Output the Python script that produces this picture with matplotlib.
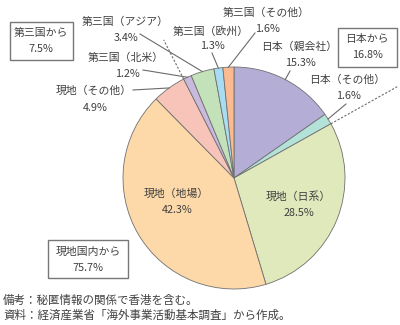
import numpy as np
import matplotlib
matplotlib.use('Agg')
import matplotlib.pyplot as plt

plt.rcParams['font.family'] = ['Noto Sans CJK JP', 'DejaVu Sans']

# 調達先別の内訳（%）、12時の位置から時計回り
labels = ['日本（親会社）', '日本（その他）', '現地（日系）', '現地（地場）', '現地（その他）',
          '第三国（北米）', '第三国（アジア）', '第三国（欧州）', '第三国（その他）']
shares = [15.3, 1.6, 28.5, 42.3, 4.9, 1.2, 3.4, 1.3, 1.6]
colors = ['#b4add6', '#b3e2d8', '#dfe9bc', '#fdd9a9', '#f8c4b9',
          '#c9badd', '#c3e2b9', '#a8dcf2', '#fbba8f']

group_names = ['日本から', '現地国内から', '第三国から']
group_shares = [16.8, 75.7, 7.5]

W, H = 400, 325
cx, cy, R = 234, H - 178, 111
text_c = '#404040'
line_c = '#6b6b6b'
fs = 7.8

fig = plt.figure(figsize=(W / 100, H / 100), dpi=100)
ax = fig.add_axes([0, 0, 1, 1])
ax.pie(shares, colors=colors, startangle=90, counterclock=False,
       center=(cx, cy), radius=R,
       wedgeprops=dict(edgecolor='#707070', linewidth=0.6))
ax.set_xlim(0, W)
ax.set_ylim(0, H)
ax.set_aspect('equal')
ax.axis('off')

total = sum(shares)
cum = np.cumsum([0] + shares) / total


def edge_point(frac, r=R):
    # frac: 0 = 真上、時計回り
    a = np.deg2rad(90 - 360 * frac)
    return cx + r * np.cos(a), cy + r * np.sin(a)


def mid(i):
    return (cum[i] + cum[i + 1]) / 2


# 外側ラベル: (位置x, 名称y, 値y, 引出線の始点)
outer = {
    0: (299, 47, 63, (290, 71)),
    1: (347, 80, 96, (346, 104)),
    4: (94, 91, 108, (133, 90)),
    5: (126, 58, 74, (143, 70)),
    6: (125, 22, 38, (140, 34)),
    7: (211, 31, 46, (212, 53)),
    8: (266, 13, 29, (255, 33)),
}
for i, (x, y1, y2, start) in outer.items():
    ax.text(x, H - y1, labels[i], ha='center', va='center', fontsize=fs, color=text_c)
    ax.text(x + 1, H - y2, f'{shares[i]}%', ha='center', va='center', fontsize=fs, color=text_c)
    ex, ey = edge_point(mid(i))
    ax.plot([start[0], ex], [H - start[1], ey], color=line_c, lw=0.8)

# 内側ラベル
inner = {2: (298, 197), 3: (176, 194)}
for i, (x, y) in inner.items():
    ax.text(x, H - y, labels[i], ha='center', va='center', fontsize=fs, color=text_c)
    ax.text(x + 1, H - y - 16, f'{shares[i]}%', ha='center', va='center', fontsize=fs, color=text_c)

# グループの区切り（破線）
for frac, r_out in [(cum[2], 187), (cum[5], 155)]:
    x0, y0 = edge_point(frac)
    x1, y1 = edge_point(frac, r_out)
    ax.plot([x0, x1], [y0, y1], color=line_c, lw=0.8, ls=(0, (2, 1.5)))

# グループ合計の枠
boxes = [(367, 39, 338, 28, 59, 39), (88, 252, 48, 240, 80, 38), (41, 33, 10, 22, 63, 38)]
for name, val, (tx, ty, bx, by, bw, bh) in zip(group_names, group_shares, boxes):
    ax.add_patch(plt.Rectangle((bx, H - by - bh), bw, bh, fill=False,
                               edgecolor='#777777', lw=1.0))
    ax.text(tx, H - ty, name, ha='center', va='center', fontsize=fs, color=text_c)
    ax.text(tx, H - ty - 16, f'{val}%', ha='center', va='center', fontsize=fs, color=text_c)

ax.text(3, H - 300, '備考：秘匿情報の関係で香港を含む。', ha='left', va='center',
        fontsize=8.3, color=text_c)
ax.text(3, H - 315, '資料：経済産業省「海外事業活動基本調査」から作成。', ha='left', va='center',
        fontsize=8.3, color=text_c)

fig.savefig('out.png', dpi=100)
